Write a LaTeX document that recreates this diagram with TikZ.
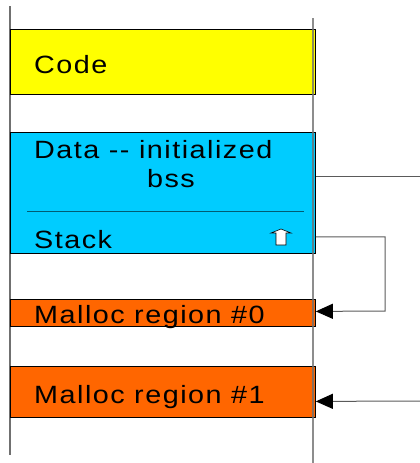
\documentclass[tikz,border=0pt]{standalone}
\usepackage{fontspec}
\setmainfont[LetterSpace=6,FakeStretch=1.15]{Liberation Sans}
\usetikzlibrary{arrows.meta,positioning}
\definecolor{codeyellow}{HTML}{FFFF00}
\definecolor{datacyan}{HTML}{00CCFF}
\definecolor{mallocorange}{HTML}{FF6600}
\definecolor{railgray}{HTML}{707070}
\definecolor{wiregray}{HTML}{5A5A5A}

\begin{document}
\begin{tikzpicture}[x=1pt,y=-1pt,
    seg/.style={draw=black,line width=0.8pt,anchor=north west,minimum width=305pt,inner sep=0pt},
    lbl/.style={anchor=base west,inner sep=0pt,font=\fontsize{25}{29}\selectfont},
    wire/.style={draw=wiregray,line width=1pt},
    tip/.style={-{Triangle[length=17pt,width=15pt,color=black]}}]
  \useasboundingbox (0,0) rectangle (420,463);
  % left rail
  \draw[railgray,line width=1.2pt] (10,6) -- (10,455);
  % segments
  \node[seg,fill=codeyellow,minimum height=65pt] (code) at (10,29) {};
  \node[seg,fill=datacyan,minimum height=121pt] (data) at (10,132) {};
  \node[seg,fill=mallocorange,minimum height=27pt] (malloc0) at (10,299) {};
  \node[seg,fill=mallocorange,minimum height=51pt] (malloc1) at (10,366) {};
  % labels
  \node[lbl] (codelbl) at (34,73) {Code};
  \node[lbl] (datalbl) at (34,158) {Data -{}- initialized};
  \node[lbl,anchor=base] (bsslbl) at (171,187) {bss};
  \node[lbl] (stacklbl) at (34,248) {Stack};
  \node[lbl] (m0lbl) at (34,323) {Malloc region \#0};
  \node[lbl] (m1lbl) at (34,403) {Malloc region \#1};
  \draw[datacyan!45!black,line width=0.9pt] (27,211) -- (304,211);
  % stack growth
  \draw[black,fill=white,line width=0.6pt] (276,245) -- (276,233) -- (271,233) -- (281,229)
    -- (291,233) -- (286,233) -- (286,245) -- cycle;
  % right rail
  \draw[railgray,line width=1.4pt,opacity=0.8] (313,18) -- (313,463);
  % pointers
  \coordinate (dataout) at (420,176);
  \coordinate (m1in) at (420,401);
  \draw[wire] ([yshift=-44pt]data.north east) -- (dataout);
  \draw[wire,tip] ([yshift=17pt]data.south east) -| (385,311) -- ([yshift=1.5pt]malloc0.east);
  \draw[wire,tip] (m1in) -- ([yshift=-9.5pt]malloc1.east);
\end{tikzpicture}
\end{document}
